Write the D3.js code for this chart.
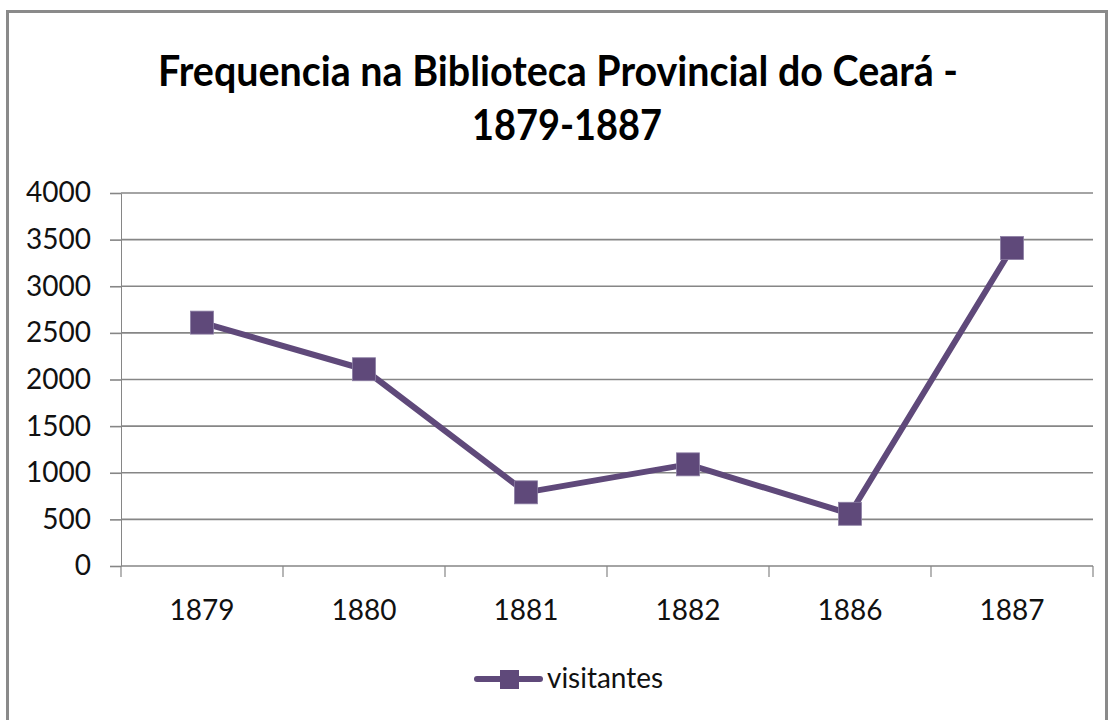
<!DOCTYPE html>
<html>
<head>
<meta charset="utf-8">
<script src="https://cdn.jsdelivr.net/npm/d3@7"></script>
<style>
  body { margin: 0; background: #fff; }
  svg { display: block; font-family: Lato, "Open Sans", sans-serif; }
</style>
</head>
<body>
<svg id="chart"></svg>
<script>
const years = ["1879", "1880", "1881", "1882", "1886", "1887"];
const visitantes = [2610, 2110, 790, 1090, 560, 3410];
const yTicks = [0, 500, 1000, 1500, 2000, 2500, 3000, 3500, 4000];
const seriesName = "visitantes";
const titleLines = ["Frequencia na Biblioteca Provincial do Ceará -", "1879-1887"];

const width = 1112;
const height = 720;
const purple = "#5f497a";
const gray = "#868686";

const svg = d3.select("#chart").attr("width", width).attr("height", height);

// outer chart frame (bottom edge is cut off in the picture)
svg.append("path")
  .attr("d", "M7.5,721 V11.5 H1106.5 V721")
  .attr("fill", "none")
  .attr("stroke", "#8a8a8a")
  .attr("stroke-width", 3);

// title
svg.append("text")
  .attr("x", 158).attr("y", 86)
  .attr("textLength", 800).attr("lengthAdjust", "spacingAndGlyphs")
  .attr("font-size", 42).attr("font-weight", "bold")
  .text(titleLines[0]);
svg.append("text")
  .attr("x", 472).attr("y", 140)
  .attr("textLength", 190).attr("lengthAdjust", "spacingAndGlyphs")
  .attr("font-size", 42).attr("font-weight", "bold")
  .text(titleLines[1]);

const x = d3.scaleBand().domain(years).range([121, 1093]);
const y = d3.scaleLinear().domain([0, 4000]).range([566, 193]);

// gridlines
svg.append("g")
  .selectAll("line")
  .data(yTicks)
  .enter()
  .append("line")
  .attr("x1", 121).attr("x2", 1093)
  .attr("y1", (d) => y(d)).attr("y2", (d) => y(d))
  .attr("stroke", gray)
  .attr("stroke-width", 1.6);

// y axis
const yAxis = svg.append("g")
  .attr("transform", "translate(121,0)")
  .call(d3.axisLeft(y).tickValues(yTicks).tickFormat(d3.format("d"))
    .tickSizeInner(11).tickSizeOuter(0).tickPadding(19));
yAxis.select(".domain").attr("stroke", gray).attr("stroke-width", 1);
yAxis.selectAll(".tick line").attr("stroke", gray).attr("stroke-width", 1.6);
yAxis.selectAll("text")
  .attr("font-size", 28).attr("fill", "#111")
  .attr("font-family", "Lato, sans-serif");

// x axis: labels at band centres, ticks on band edges
const xAxis = svg.append("g")
  .attr("transform", "translate(0,566)")
  .call(d3.axisBottom(x).tickSize(0).tickPadding(34));
xAxis.select(".domain").remove();
xAxis.selectAll("text")
  .attr("font-size", 28).attr("fill", "#111")
  .attr("font-family", "Lato, sans-serif");

const edges = years.map((d) => x(d)).concat([x.range()[1]]);
svg.append("g")
  .selectAll("line")
  .data(edges)
  .enter()
  .append("line")
  .attr("x1", (d) => d).attr("x2", (d) => d)
  .attr("y1", 566).attr("y2", 577)
  .attr("stroke", gray)
  .attr("stroke-width", 1.2);

// series line + square markers
const pts = years.map((d, i) => [x(d) + x.bandwidth() / 2, y(visitantes[i])]);

svg.append("path")
  .datum(pts)
  .attr("d", d3.line())
  .attr("fill", "none")
  .attr("stroke", purple)
  .attr("stroke-width", 6)
  .attr("stroke-linejoin", "round");

const ms = 23;
svg.append("g")
  .selectAll("rect")
  .data(pts)
  .enter()
  .append("rect")
  .attr("x", (d) => d[0] - ms / 2)
  .attr("y", (d) => d[1] - ms / 2)
  .attr("width", ms).attr("height", ms)
  .attr("fill", purple)
  .attr("stroke", "#8c7ea3")
  .attr("stroke-width", 0.8);

// legend
const lg = svg.append("g").attr("transform", "translate(477,679)");
lg.append("line")
  .attr("x1", 0).attr("x2", 63)
  .attr("stroke", purple).attr("stroke-width", 6).attr("stroke-linecap", "round");
lg.append("rect")
  .attr("x", 23).attr("y", -9).attr("width", 19).attr("height", 19)
  .attr("fill", purple);
lg.append("text")
  .attr("x", 70).attr("y", 9)
  .attr("font-size", 28).attr("fill", "#111")
  .attr("textLength", 116).attr("lengthAdjust", "spacingAndGlyphs")
  .text(seriesName);
</script>
</body>
</html>
